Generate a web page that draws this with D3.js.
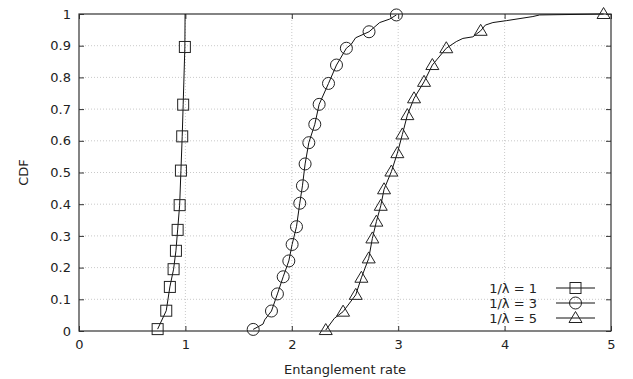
<!DOCTYPE html>
<html><head><meta charset="utf-8">
<script src="https://cdn.jsdelivr.net/npm/d3@7"></script>
<style>body{margin:0;background:#fff}svg{display:block}text{font-family:"DejaVu Sans",sans-serif;font-size:13px;fill:#222}</style>
</head><body><svg id="c" width="633" height="379"></svg>
<script>
const xTicks = [0,1,2,3,4,5];
const yTicks = [0,0.1,0.2,0.3,0.4,0.5,0.6,0.7,0.8,0.9,1];
const seriesNames = ["1/λ = 1","1/λ = 3","1/λ = 5"];
// marker points
const markers1 = [[0.739,0.006],[0.820,0.064],[0.854,0.139],[0.889,0.195],[0.911,0.253],[0.927,0.319],[0.946,0.397],[0.958,0.506],[0.970,0.614],[0.979,0.714],[0.995,0.896]];
const markers2 = [[1.637,0.005],[1.809,0.063],[1.865,0.117],[1.919,0.171],[1.972,0.221],[2.003,0.273],[2.044,0.329],[2.075,0.403],[2.100,0.458],[2.125,0.527],[2.160,0.594],[2.216,0.652],[2.257,0.715],[2.345,0.781],[2.420,0.839],[2.513,0.892],[2.726,0.944],[2.983,0.997]];
const markers3 = [[2.319,0.003],[2.482,0.061],[2.601,0.114],[2.654,0.168],[2.723,0.229],[2.757,0.292],[2.795,0.345],[2.836,0.395],[2.867,0.447],[2.936,0.503],[2.992,0.561],[3.039,0.620],[3.086,0.681],[3.149,0.734],[3.243,0.786],[3.321,0.839],[3.452,0.892],[3.775,0.947],[4.930,1.0]];
// line points (CDF curves, including marker points)
const line1 = [[0.739,0.006],[0.820,0.064],[0.854,0.139],[0.889,0.195],[0.911,0.253],[0.927,0.319],[0.946,0.397],[0.958,0.506],[0.970,0.614],[0.979,0.714],[0.995,0.896],[0.997,1.0]];
const line2 = [[1.637,0.005],[1.730,0.022],[1.745,0.035],[1.809,0.063],[1.865,0.117],[1.919,0.171],[1.972,0.221],[2.003,0.273],[2.044,0.329],[2.075,0.403],[2.100,0.458],[2.125,0.527],[2.160,0.594],[2.216,0.652],[2.257,0.715],[2.345,0.781],[2.420,0.839],[2.513,0.892],[2.560,0.905],[2.600,0.925],[2.726,0.944],[2.826,0.973],[2.920,0.984],[2.983,0.997]];
const line3 = [[2.319,0.003],[2.400,0.040],[2.482,0.061],[2.601,0.114],[2.654,0.168],[2.723,0.229],[2.757,0.292],[2.795,0.345],[2.836,0.395],[2.867,0.447],[2.936,0.503],[2.992,0.561],[3.039,0.620],[3.086,0.681],[3.149,0.734],[3.243,0.786],[3.321,0.839],[3.452,0.892],[3.546,0.913],[3.608,0.923],[3.702,0.928],[3.775,0.947],[3.819,0.965],[3.890,0.973],[4.016,0.979],[4.266,0.992],[4.329,0.997],[4.930,1.0]];

const svg = d3.select("#c");
const L=79, R=611, T=14, B=331;
const x = d3.scaleLinear().domain([0,5]).range([L,R]);
const y = d3.scaleLinear().domain([0,1]).range([B,T]);

// grid
const g = svg.append("g");
g.selectAll(".gx").data(xTicks.slice(1,-1)).join("line")
 .attr("x1",d=>x(d)).attr("x2",d=>x(d)).attr("y1",T).attr("y2",B)
 .attr("stroke","#bbb").attr("stroke-width",0.8).attr("stroke-dasharray","1,2");
g.selectAll(".gy").data(yTicks.slice(1,-1)).join("line")
 .attr("y1",d=>y(d)).attr("y2",d=>y(d)).attr("x1",L).attr("x2",R)
 .attr("stroke","#bbb").attr("stroke-width",0.8).attr("stroke-dasharray","1,2");

// axes
const ax = svg.append("g").attr("transform",`translate(0,${B})`)
 .call(d3.axisBottom(x).tickValues(xTicks).tickSize(-5).tickPadding(9).tickFormat(d3.format("d")));
const ax2 = svg.append("g").attr("transform",`translate(0,${T})`)
 .call(d3.axisTop(x).tickValues(xTicks).tickSize(-5).tickFormat(""));
const ay = svg.append("g").attr("transform",`translate(${L},0)`)
 .call(d3.axisLeft(y).tickValues(yTicks).tickSize(-5).tickPadding(8).tickFormat(d=>d===0||d===1?d3.format("d")(d):d3.format(".1f")(d)));
const ay2 = svg.append("g").attr("transform",`translate(${R},0)`)
 .call(d3.axisRight(y).tickValues(yTicks).tickSize(-5).tickFormat(""));
[ax,ax2,ay,ay2].forEach(a=>{a.select(".domain").remove();a.selectAll("line").attr("stroke","#333");a.selectAll("text").attr("font-family","DejaVu Sans").attr("font-size",13).attr("fill","#222");});
svg.append("rect").attr("x",L).attr("y",T).attr("width",R-L).attr("height",B-T)
 .attr("fill","none").attr("stroke","#333").attr("stroke-width",1.2);

// labels
svg.append("text").attr("x",(L+R)/2).attr("y",374).attr("text-anchor","middle").text("Entanglement rate");
svg.append("text").attr("transform",`translate(28,${(T+B)/2}) rotate(-90)`).attr("text-anchor","middle").text("CDF");

const lineGen = d3.line().x(d=>x(d[0])).y(d=>y(d[1]));
const lines=[line1,line2,line3], marks=[markers1,markers2,markers3];
const sym=[
 (s,cx,cy)=>s.append("rect").attr("x",cx-5.5).attr("y",cy-5.5).attr("width",11).attr("height",11),
 (s,cx,cy)=>s.append("circle").attr("cx",cx).attr("cy",cy).attr("r",6),
 (s,cx,cy)=>s.append("path").attr("d",`M${cx},${cy-6.5}L${cx+6.5},${cy+4.5}L${cx-6.5},${cy+4.5}Z`)
];
const plot = svg.append("g");
lines.forEach((ld,i)=>{
 plot.append("path").datum(ld).attr("d",lineGen).attr("fill","none").attr("stroke","#111").attr("stroke-width",1);
 const mg = plot.append("g").attr("fill","none").attr("stroke","#222").attr("stroke-width",1);
 marks[i].forEach(p=>sym[i](mg,x(p[0]),y(p[1])));
});

// legend
const ly=[288,303,318];
seriesNames.forEach((n,i)=>{
 svg.append("text").attr("x",537).attr("y",ly[i]).attr("dy","0.35em").attr("text-anchor","end").text(n);
 svg.append("line").attr("x1",556).attr("x2",595).attr("y1",ly[i]).attr("y2",ly[i]).attr("stroke","#111");
 const mg=svg.append("g").attr("fill","none").attr("stroke","#222");
 sym[i](mg,575.5,ly[i]);
});
</script></body></html>
